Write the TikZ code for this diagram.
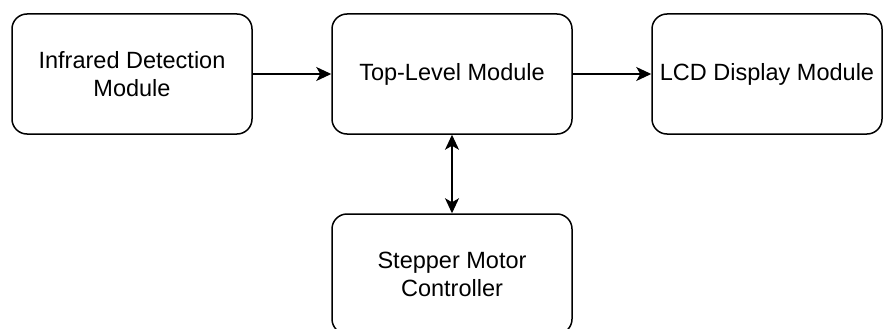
\documentclass[tikz,border=0pt]{standalone}
\usepackage{fontspec}
\setmainfont{Liberation Sans}
\usetikzlibrary{arrows.meta}
\tikzset{
	modul/.style={draw=black, line width=1.5pt, fill=white, rounded corners=15pt,
		minimum width=240pt, minimum height=120pt, align=center, inner sep=0pt,
		font=\fontsize{23.5}{28}\selectfont},
	pfeil/.style={line width=1.5pt, ->},
	doppelpfeil/.style={line width=1.5pt, <->}
}
\begin{document}
\begin{tikzpicture}[x=1pt, y=-1pt, >={Stealth[length=15pt, width=14pt, inset=4pt]}]
	\useasboundingbox (0, 0) rectangle (883, 329);
	\clip (0, 0) rectangle (883, 329);
	% Module
	\node[modul] (infrarot) at (132, 74) {Infrared Detection\\Module};
	\node[modul] (top) at (452, 74) {Top-Level Module};
	\node[modul, minimum width=230pt] (lcd) at (767, 74) {LCD Display Module};
	\node[modul] (motor) at (452, 274) {Stepper Motor\\Controller};
	% Verbindungen
	\draw[pfeil] (infrarot) -- (top);
	\draw[pfeil] (top) -- (lcd);
	\draw[doppelpfeil] (top) -- (motor);
\end{tikzpicture}
\end{document}
